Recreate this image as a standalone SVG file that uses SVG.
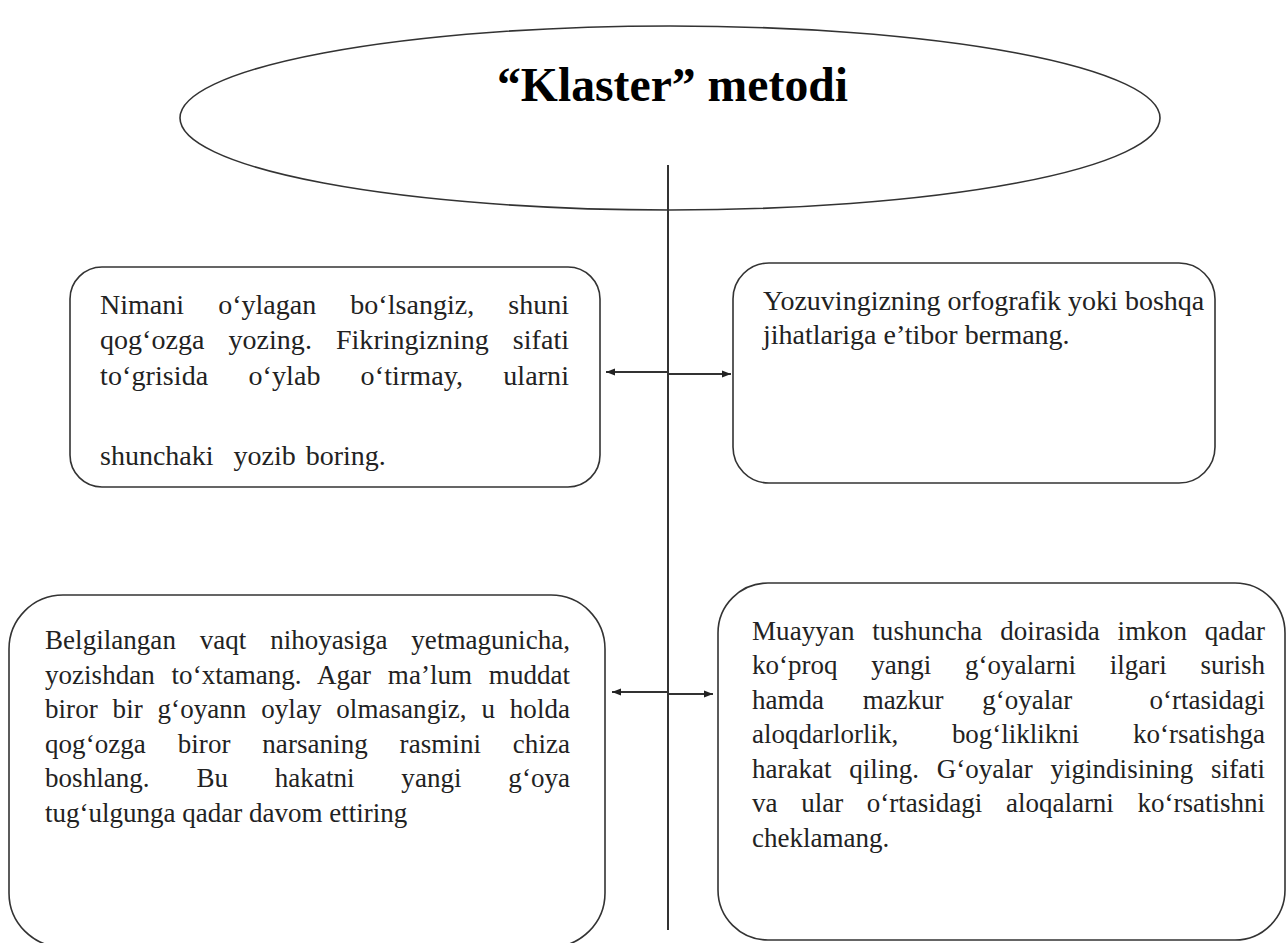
<svg xmlns="http://www.w3.org/2000/svg" width="1287" height="943" viewBox="0 0 1287 943">
<defs>
<style>
.box{fill:#fff;stroke:#333;stroke-width:1.6}
.t{font-family:"Liberation Serif","Times New Roman",serif;font-size:28px;fill:#222}
.s{font-size:27px}
.title{font-family:"Liberation Serif","Times New Roman",serif;font-size:48px;font-weight:bold;fill:#000}
.c{stroke:#333;stroke-width:2;fill:none}
</style>
<marker id="ah" markerWidth="10" markerHeight="8" refX="9" refY="4" orient="auto" markerUnits="userSpaceOnUse">
<path d="M0,0.5 L9,4 L0,7.5 Z" fill="#222"/>
</marker>
</defs>
<rect width="1287" height="943" fill="#fff"/>

<g id="title-node">
<ellipse cx="670" cy="118" rx="490" ry="92" fill="#fff" stroke="#333" stroke-width="1.6"/>
<text class="title" x="497" y="101" textLength="351" lengthAdjust="spacingAndGlyphs">“Klaster” metodi</text>
</g>

<g id="connectors">
<line class="c" x1="668" y1="165" x2="668" y2="930"/>
<line class="c" x1="668" y1="372" x2="606" y2="372" marker-end="url(#ah)"/>
<line class="c" x1="668" y1="374" x2="731" y2="374" marker-end="url(#ah)"/>
<line class="c" x1="668" y1="692" x2="612" y2="692" marker-end="url(#ah)"/>
<line class="c" x1="668" y1="694" x2="713" y2="694" marker-end="url(#ah)"/>
</g>

<g id="node-1">
<rect class="box" x="70" y="267" width="530" height="220" rx="32" ry="32"/>
<text class="t" xml:space="preserve">
<tspan x="100" y="314" textLength="469" lengthAdjust="spacing" word-spacing="27">Nimani o‘ylagan bo‘lsangiz, shuni</tspan>
<tspan x="100" y="349" textLength="469" lengthAdjust="spacing" word-spacing="17">qog‘ozga yozing. Fikringizning sifati</tspan>
<tspan x="100" y="385" textLength="469" lengthAdjust="spacing" word-spacing="33">to‘grisida o‘ylab o‘tirmay, ularni</tspan>
<tspan x="100" y="465" word-spacing="3">shunchaki  yozib boring.</tspan>
</text>
</g>

<g id="node-2">
<rect class="box" x="733" y="263" width="482" height="220" rx="36" ry="36"/>
<text class="t">
<tspan x="763" y="310">Yozuvingizning orfografik yoki boshqa</tspan>
<tspan x="763" y="344">jihatlariga e’tibor bermang.</tspan>
</text>
</g>

<g id="node-3">
<rect class="box" x="9" y="595" width="596" height="352" rx="54" ry="54"/>
<text class="t s" xml:space="preserve">
<tspan x="45" y="649" textLength="525" lengthAdjust="spacing" word-spacing="17">Belgilangan vaqt nihoyasiga yetmagunicha,</tspan>
<tspan x="45" y="684" textLength="525" lengthAdjust="spacing" word-spacing="10">yozishdan to‘xtamang. Agar ma’lum muddat</tspan>
<tspan x="45" y="718" textLength="525" lengthAdjust="spacing" word-spacing="8">biror bir g‘oyann oylay olmasangiz, u holda</tspan>
<tspan x="45" y="753" textLength="525" lengthAdjust="spacing" word-spacing="25">qog‘ozga biror narsaning rasmini chiza</tspan>
<tspan x="45" y="787" textLength="525" lengthAdjust="spacing" word-spacing="40">boshlang. Bu hakatni yangi g‘oya</tspan>
<tspan x="45" y="822">tug‘ulgunga qadar davom ettiring</tspan>
</text>
</g>

<g id="node-4">
<rect class="box" x="718" y="583" width="567" height="357" rx="50" ry="50"/>
<text class="t s" xml:space="preserve">
<tspan x="752" y="640" textLength="513" lengthAdjust="spacing" word-spacing="11">Muayyan tushuncha doirasida imkon qadar</tspan>
<tspan x="752" y="674" textLength="513" lengthAdjust="spacing" word-spacing="27">ko‘proq yangi g‘oyalarni ilgari surish</tspan>
<tspan x="752" y="709" textLength="513" lengthAdjust="spacing" word-spacing="32">hamda mazkur g‘oyalar  o‘rtasidagi</tspan>
<tspan x="752" y="743" textLength="513" lengthAdjust="spacing" word-spacing="47">aloqdarlorlik, bog‘liklikni ko‘rsatishga</tspan>
<tspan x="752" y="778" textLength="513" lengthAdjust="spacing" word-spacing="11">harakat qiling. G‘oyalar yigindisining sifati</tspan>
<tspan x="752" y="812" textLength="513" lengthAdjust="spacing" word-spacing="17">va ular o‘rtasidagi aloqalarni ko‘rsatishni</tspan>
<tspan x="752" y="847">cheklamang.</tspan>
</text>
</g>
</svg>
